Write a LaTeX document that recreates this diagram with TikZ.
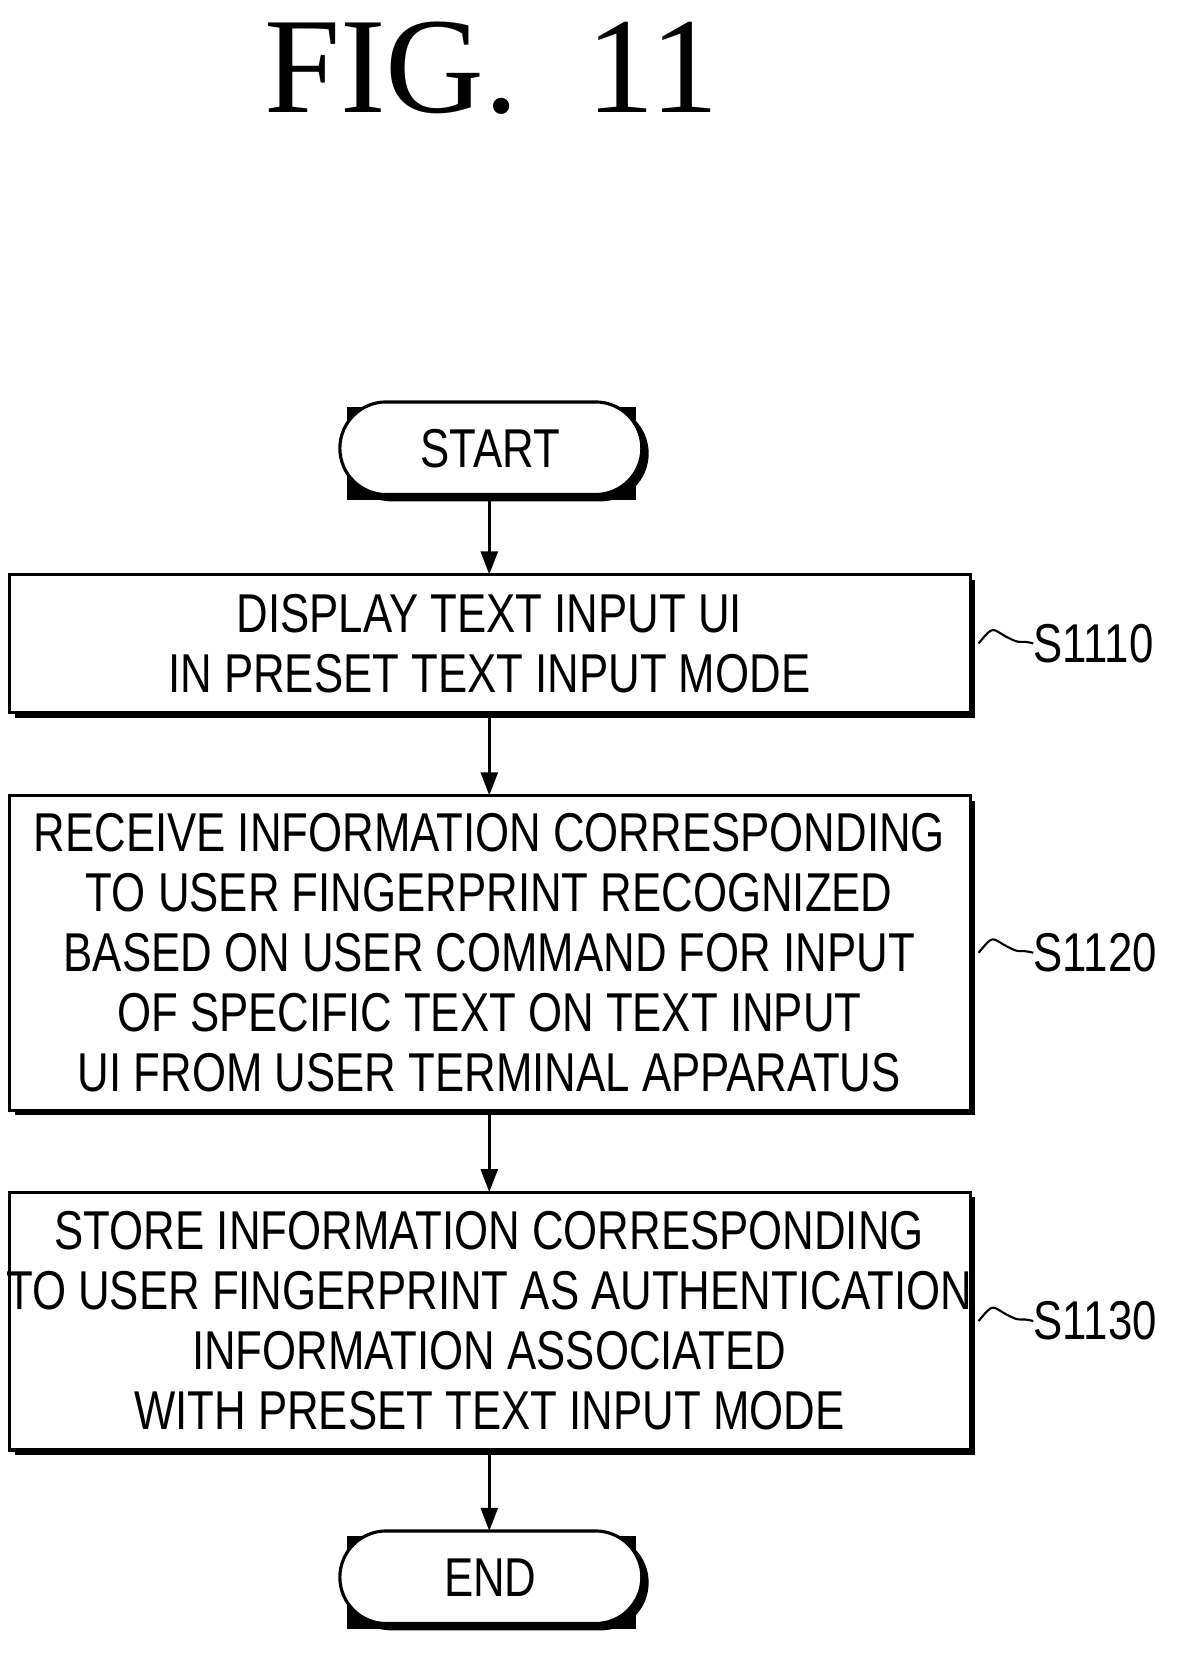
\documentclass[tikz,border=0pt]{standalone}
\usepackage{fontspec}
\setmainfont[FakeStretch=0.8]{Liberation Sans}
\newfontfamily\titlefont{Liberation Serif}
\usetikzlibrary{arrows.meta,shapes.misc}
\begin{document}
\begin{tikzpicture}[x=1pt,y=-1pt,
  shad/.style={line width=3pt},
  lab/.style={font=\fontsize{52}{57}\selectfont,align=center,inner sep=0},
  arr/.style={line width=3pt,-{Triangle[length=22pt,width=16pt]}}]
\useasboundingbox (0,0) rectangle (1130,1571);
\node[font=\titlefont\fontsize{130}{130}\selectfont] (title) at (467,65) {FIG.\ \ 11};
% pills
\foreach \n/\y/\t in {st/426/START,en/1499/END}{
  \fill[black] (330,{\y-39}) rectangle (604,{\y+49});
  \draw[line width=3pt,fill=black,rounded corners=44pt] (328,{\y-39}) rectangle (615,{\y+49});
  \draw[line width=3pt,fill=white,rounded corners=44pt] (323,{\y-44}) rectangle (610,{\y+44});
  \node[lab] (\n) at (466,\y) {\t};
}
% boxes
\foreach \n/\a/\b in {b1/546/677,b2/756/1055,b3/1133/1378}{
  \fill (14,\a+5) rectangle (927,\b+5);
  \draw[line width=3pt,fill=white] (9,\a) rectangle (922,\b);
  \coordinate (\n t) at (465,\a); \coordinate (\n b) at (465,\b);
  \coordinate (\n r) at (927,{(\a+\b)/2});
}
\node[lab] at (465,612) {DISPLAY TEXT INPUT UI\\IN PRESET TEXT INPUT MODE};
\node[lab] at (465,905) {RECEIVE INFORMATION CORRESPONDING\\TO USER FINGERPRINT RECOGNIZED\\BASED ON USER COMMAND FOR INPUT\\OF SPECIFIC TEXT ON TEXT INPUT\\UI FROM USER TERMINAL APPARATUS};
\node[lab] at (465,1255) {STORE INFORMATION CORRESPONDING\\TO USER FINGERPRINT AS AUTHENTICATION\\INFORMATION ASSOCIATED\\WITH PRESET TEXT INPUT MODE};
\coordinate (sb) at (465,475); \coordinate (et) at (465,1455);
\draw[arr] (sb) -- (b1t);
\draw[arr] (b1b) -- (b2t);
\draw[arr] (b2b) -- (b3t);
\draw[arr] (b3b) -- (et);
\foreach \n/\t in {b1/S1110,b2/S1120,b3/S1130}{
  \node[lab,anchor=west] (\n l) at ([xshift=55pt]\n r) {\t};
  \draw[line width=2pt] ([xshift=3pt]\n r) .. controls +(15,-18) and +(-15,-8) .. +(27,-6) .. controls +(15,8) and +(-15,-4) .. (\n l.west);
}
\end{tikzpicture}
\end{document}
